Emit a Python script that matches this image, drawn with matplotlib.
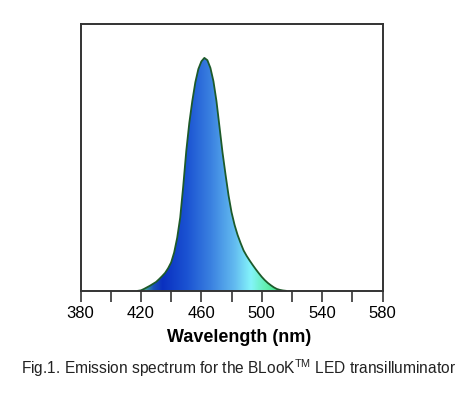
import numpy as np
import matplotlib.pyplot as plt
from matplotlib.colors import LinearSegmentedColormap

plt.rcParams['font.family'] = ['Liberation Sans', 'DejaVu Sans']
plt.rcParams['mathtext.fontset'] = 'custom'
plt.rcParams['mathtext.rm'] = 'Liberation Sans'

# emission spectrum (relative intensity)
wavelength = [418, 420, 422, 424, 426, 428, 430, 432, 434, 436, 438, 440, 442, 444,
              446, 448, 450, 452, 454, 456, 458, 460, 462, 464, 466, 468, 470,
              472, 474, 476, 478, 480, 482, 484, 486, 488, 490, 492, 494, 496,
              498, 500, 502, 504, 506, 508, 510, 512, 514, 516]
intensity = [0.0, 0.002, 0.008, 0.015, 0.022, 0.030, 0.038, 0.050, 0.063, 0.077,
             0.097, 0.122, 0.165, 0.228, 0.315, 0.45, 0.60, 0.72, 0.815, 0.895, 0.952,
             0.985, 1.0, 0.99, 0.957, 0.90, 0.815, 0.705, 0.595, 0.50, 0.41, 0.337,
             0.283, 0.24, 0.205, 0.173, 0.150, 0.130, 0.111, 0.093, 0.076, 0.060,
             0.046, 0.034, 0.024, 0.015, 0.008, 0.004, 0.0015, 0.0]

xticks = list(range(380, 581, 20))
xticklabels = [str(t) if (t - 380) % 40 == 0 else '' for t in xticks]

# colour along the wavelength axis
stops = [(420, '#4cc890'), (428, '#1a50b8'), (434, '#0a30c0'), (450, '#1a52d2'),
         (466, '#3a80e0'), (482, '#62baf0'), (493, '#84f4fa'), (503, '#62f0b0'),
         (518, '#2ad06a')]

fig = plt.figure(figsize=(4.74, 3.93), dpi=100)
ax = fig.add_axes([0.170, 0.260, 0.637, 0.678])

ymax = 1.144
lo, hi = stops[0][0], stops[-1][0]
cmap = LinearSegmentedColormap.from_list(
    'spec', [((w - lo) / (hi - lo), c) for w, c in stops])
grad = np.linspace(0, 1, 400).reshape(1, -1)
img = ax.imshow(grad, cmap=cmap, aspect='auto', extent=[lo, hi, 0, ymax],
                origin='lower', zorder=1)
poly = ax.fill_between(wavelength, intensity, 0, facecolor='none', edgecolor='none')
img.set_clip_path(poly.get_paths()[0], transform=ax.transData)
ax.plot(wavelength, intensity, color='#1d5a2a', lw=1.3, zorder=2)

ax.set_xlim(380, 580)
ax.set_ylim(0, ymax)
ax.set_yticks([])
ax.set_xticks(xticks)
ax.set_xticklabels(xticklabels, fontsize=12)
ax.tick_params(axis='x', direction='out', length=8, width=1.2, color='#333333', pad=3)
for s in ax.spines.values():
    s.set_color('#333333')
    s.set_linewidth(1.4)

ax.set_xlabel('Wavelength (nm)', fontsize=13, fontweight='bold')
ax.xaxis.set_label_coords(0.526, -0.142)
fig.text(0.504, 0.062, r'Fig.1. Emission spectrum for the BLooK$^{\rm TM}$ LED transilluminator',
         ha='center', va='center', fontsize=11.2, color='#222222')

fig.savefig('out.png', dpi=100)
